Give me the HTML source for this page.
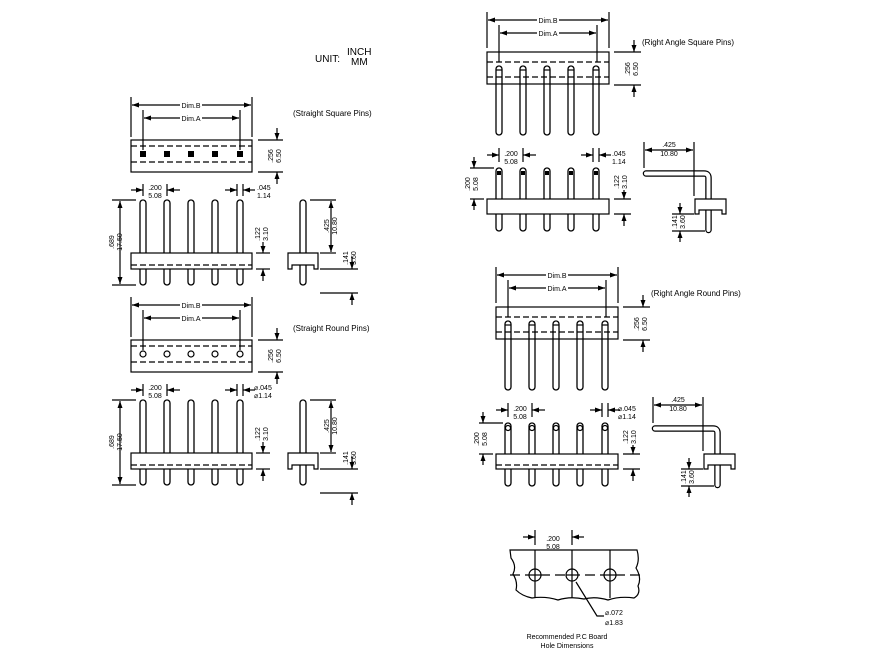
<!DOCTYPE html>
<html><head><meta charset="utf-8"><style>
html,body{margin:0;padding:0;background:#fff}
svg{display:block}
text{font-family:"Liberation Sans",sans-serif;fill:#000}
.d{font-size:7px}
.l{font-size:8px}
</style></head><body>
<svg width="872" height="658" viewBox="0 0 872 658" xmlns="http://www.w3.org/2000/svg">
<defs>
<marker id="a" viewBox="0 0 7 5" refX="7" refY="2.5" markerWidth="7" markerHeight="5" markerUnits="userSpaceOnUse" orient="auto-start-reverse"><path d="M0,0L7,2.5L0,5z" fill="#000"/></marker>
<g id="pin"><rect x="-3" y="0" width="6" height="85" rx="3" fill="#fff" stroke="#000" stroke-width="1.3"/></g>
<g id="rpin"><rect x="-3" y="0" width="6" height="69" rx="3" fill="#fff" stroke="#000" stroke-width="1.3"/><line x1="-3" y1="4" x2="3" y2="4" stroke="#000"/></g>
<g id="fpin"><rect x="-3" y="0" width="6" height="63" rx="3" fill="#fff" stroke="#000" stroke-width="1.3"/></g>
</defs>
<g stroke="#000" fill="none" stroke-width="1.2">

<g id="ss">
<line x1="131" y1="97" x2="131" y2="137"/><line x1="252" y1="97" x2="252" y2="137"/>
<line x1="143" y1="110" x2="143" y2="150"/><line x1="240" y1="110" x2="240" y2="150"/>
<line x1="132" y1="105" x2="251" y2="105" marker-start="url(#a)" marker-end="url(#a)"/>
<line x1="144" y1="118" x2="239" y2="118" marker-start="url(#a)" marker-end="url(#a)"/>
<rect x="131" y="140" width="121" height="32"/>
<line x1="131" y1="146" x2="252" y2="146" stroke-dasharray="6,3"/>
<line x1="131" y1="162" x2="252" y2="162" stroke-dasharray="6,3"/>
<line x1="258" y1="140" x2="283" y2="140"/><line x1="258" y1="172" x2="283" y2="172"/>
<line x1="277" y1="128" x2="277" y2="140" marker-end="url(#a)"/><line x1="277" y1="184" x2="277" y2="172" marker-end="url(#a)"/>
<use href="#pin" x="143" y="200"/><use href="#pin" x="167" y="200"/><use href="#pin" x="191" y="200"/><use href="#pin" x="215" y="200"/><use href="#pin" x="240" y="200"/>
<rect x="131" y="253" width="121" height="16" fill="#fff"/>
<line x1="131" y1="265" x2="252" y2="265" stroke-dasharray="6,3"/>
<line x1="143" y1="184" x2="143" y2="196"/><line x1="167" y1="184" x2="167" y2="196"/>
<line x1="131" y1="190" x2="143" y2="190" marker-end="url(#a)"/><line x1="180" y1="190" x2="167" y2="190" marker-end="url(#a)"/>
<line x1="237" y1="184" x2="237" y2="196"/><line x1="243" y1="184" x2="243" y2="196"/>
<line x1="225" y1="190" x2="237" y2="190" marker-end="url(#a)"/><line x1="255" y1="190" x2="243" y2="190" marker-end="url(#a)"/>
<line x1="112" y1="200" x2="136" y2="200"/><line x1="112" y1="285" x2="136" y2="285"/>
<line x1="120" y1="201" x2="120" y2="284" marker-start="url(#a)" marker-end="url(#a)"/>
<line x1="256" y1="253" x2="270" y2="253"/><line x1="256" y1="269" x2="270" y2="269"/>
<line x1="263" y1="242" x2="263" y2="253" marker-end="url(#a)"/><line x1="263" y1="281" x2="263" y2="269" marker-end="url(#a)"/>
<use href="#pin" x="303" y="200"/>
<path d="M288,253H318V269H314V265H292V269H288Z" fill="#fff"/>
<line x1="310" y1="200" x2="336" y2="200"/><line x1="320" y1="253" x2="336" y2="253"/>
<line x1="331" y1="201" x2="331" y2="252" marker-start="url(#a)" marker-end="url(#a)"/>
<line x1="320" y1="269" x2="358" y2="269"/><line x1="320" y1="293" x2="358" y2="293"/>
<line x1="352" y1="257" x2="352" y2="269" marker-end="url(#a)"/><line x1="352" y1="305" x2="352" y2="293" marker-end="url(#a)"/>
</g>
<g fill="#000" stroke="none">
<rect x="140" y="151" width="6" height="6"/><rect x="164" y="151" width="6" height="6"/><rect x="188" y="151" width="6" height="6"/><rect x="212" y="151" width="6" height="6"/><rect x="237" y="151" width="6" height="6"/>
</g>

<g transform="translate(0,200)">
<line x1="131" y1="97" x2="131" y2="137"/><line x1="252" y1="97" x2="252" y2="137"/>
<line x1="143" y1="110" x2="143" y2="150"/><line x1="240" y1="110" x2="240" y2="150"/>
<line x1="132" y1="105" x2="251" y2="105" marker-start="url(#a)" marker-end="url(#a)"/>
<line x1="144" y1="118" x2="239" y2="118" marker-start="url(#a)" marker-end="url(#a)"/>
<rect x="131" y="140" width="121" height="32"/>
<line x1="131" y1="146" x2="252" y2="146" stroke-dasharray="6,3"/>
<line x1="131" y1="162" x2="252" y2="162" stroke-dasharray="6,3"/>
<circle cx="143" cy="154" r="3"/><circle cx="167" cy="154" r="3"/><circle cx="191" cy="154" r="3"/><circle cx="215" cy="154" r="3"/><circle cx="240" cy="154" r="3"/>
<line x1="258" y1="140" x2="283" y2="140"/><line x1="258" y1="172" x2="283" y2="172"/>
<line x1="277" y1="128" x2="277" y2="140" marker-end="url(#a)"/><line x1="277" y1="184" x2="277" y2="172" marker-end="url(#a)"/>
<use href="#pin" x="143" y="200"/><use href="#pin" x="167" y="200"/><use href="#pin" x="191" y="200"/><use href="#pin" x="215" y="200"/><use href="#pin" x="240" y="200"/>
<rect x="131" y="253" width="121" height="16" fill="#fff"/>
<line x1="131" y1="265" x2="252" y2="265" stroke-dasharray="6,3"/>
<line x1="143" y1="184" x2="143" y2="196"/><line x1="167" y1="184" x2="167" y2="196"/>
<line x1="131" y1="190" x2="143" y2="190" marker-end="url(#a)"/><line x1="180" y1="190" x2="167" y2="190" marker-end="url(#a)"/>
<line x1="237" y1="184" x2="237" y2="196"/><line x1="243" y1="184" x2="243" y2="196"/>
<line x1="225" y1="190" x2="237" y2="190" marker-end="url(#a)"/><line x1="255" y1="190" x2="243" y2="190" marker-end="url(#a)"/>
<line x1="112" y1="200" x2="136" y2="200"/><line x1="112" y1="285" x2="136" y2="285"/>
<line x1="120" y1="201" x2="120" y2="284" marker-start="url(#a)" marker-end="url(#a)"/>
<line x1="256" y1="253" x2="270" y2="253"/><line x1="256" y1="269" x2="270" y2="269"/>
<line x1="263" y1="242" x2="263" y2="253" marker-end="url(#a)"/><line x1="263" y1="281" x2="263" y2="269" marker-end="url(#a)"/>
<use href="#pin" x="303" y="200"/>
<path d="M288,253H318V269H314V265H292V269H288Z" fill="#fff"/>
<line x1="310" y1="200" x2="336" y2="200"/><line x1="320" y1="253" x2="336" y2="253"/>
<line x1="331" y1="201" x2="331" y2="252" marker-start="url(#a)" marker-end="url(#a)"/>
<line x1="320" y1="269" x2="358" y2="269"/><line x1="320" y1="293" x2="358" y2="293"/>
<line x1="352" y1="257" x2="352" y2="269" marker-end="url(#a)"/><line x1="352" y1="305" x2="352" y2="293" marker-end="url(#a)"/>
</g>

<g id="ra">
<line x1="487" y1="12" x2="487" y2="48"/><line x1="609" y1="12" x2="609" y2="48"/>
<line x1="499" y1="25" x2="499" y2="62"/><line x1="597" y1="25" x2="597" y2="62"/>
<line x1="488" y1="20" x2="608" y2="20" marker-start="url(#a)" marker-end="url(#a)"/>
<line x1="500" y1="33" x2="596" y2="33" marker-start="url(#a)" marker-end="url(#a)"/>
<use href="#rpin" x="499" y="66"/><use href="#rpin" x="523" y="66"/><use href="#rpin" x="547" y="66"/><use href="#rpin" x="571" y="66"/><use href="#rpin" x="596" y="66"/>
<rect x="487" y="52" width="122" height="32"/>
<line x1="487" y1="62" x2="609" y2="62" stroke-dasharray="6,3"/>
<line x1="487" y1="77" x2="609" y2="77" stroke-dasharray="6,3"/>
<line x1="614" y1="52" x2="641" y2="52"/><line x1="614" y1="85" x2="641" y2="85"/>
<line x1="634" y1="40" x2="634" y2="52" marker-end="url(#a)"/><line x1="634" y1="97" x2="634" y2="85" marker-end="url(#a)"/>
<use href="#fpin" x="499" y="168"/><use href="#fpin" x="523" y="168"/><use href="#fpin" x="547" y="168"/><use href="#fpin" x="571" y="168"/><use href="#fpin" x="596" y="168"/>
<rect x="487" y="199" width="122" height="15" fill="#fff"/>
<line x1="499" y1="148" x2="499" y2="162"/><line x1="523" y1="148" x2="523" y2="162"/>
<line x1="487" y1="155" x2="499" y2="155" marker-end="url(#a)"/><line x1="536" y1="155" x2="523" y2="155" marker-end="url(#a)"/>
<line x1="593" y1="148" x2="593" y2="162"/><line x1="599" y1="148" x2="599" y2="162"/>
<line x1="581" y1="155" x2="593" y2="155" marker-end="url(#a)"/><line x1="611" y1="155" x2="599" y2="155" marker-end="url(#a)"/>
<line x1="470" y1="168" x2="494" y2="168"/><line x1="470" y1="199" x2="484" y2="199"/>
<line x1="474" y1="157" x2="474" y2="168" marker-end="url(#a)"/><line x1="474" y1="210" x2="474" y2="199" marker-end="url(#a)"/>
<line x1="614" y1="199" x2="631" y2="199"/><line x1="614" y1="214" x2="631" y2="214"/>
<line x1="624" y1="190" x2="624" y2="199" marker-end="url(#a)"/><line x1="624" y1="226" x2="624" y2="214" marker-end="url(#a)"/>
<path d="M646,173.5H704Q708.5,173.5 708.5,178V230" stroke-width="6.5" stroke-linecap="round"/>
<path d="M646,173.5H704Q708.5,173.5 708.5,178V230" stroke="#fff" stroke-width="4" stroke-linecap="round"/>
<path d="M695,199H726V214H722V210H699V214H695Z" fill="#fff"/>
<line x1="644" y1="142" x2="644" y2="168"/><line x1="694" y1="142" x2="694" y2="196"/>
<line x1="645" y1="150" x2="693" y2="150" marker-start="url(#a)" marker-end="url(#a)"/>
<line x1="672" y1="214" x2="694" y2="214"/><line x1="672" y1="231" x2="705" y2="231"/>
<line x1="680" y1="203" x2="680" y2="214" marker-end="url(#a)"/><line x1="680" y1="242" x2="680" y2="231" marker-end="url(#a)"/>
</g>
<g fill="#000" stroke="none">
<rect x="497" y="171" width="4" height="4"/><rect x="521" y="171" width="4" height="4"/><rect x="545" y="171" width="4" height="4"/><rect x="569" y="171" width="4" height="4"/><rect x="594" y="171" width="4" height="4"/>
</g>

<g transform="translate(9,255)">
<line x1="487" y1="12" x2="487" y2="48"/><line x1="609" y1="12" x2="609" y2="48"/>
<line x1="499" y1="25" x2="499" y2="62"/><line x1="597" y1="25" x2="597" y2="62"/>
<line x1="488" y1="20" x2="608" y2="20" marker-start="url(#a)" marker-end="url(#a)"/>
<line x1="500" y1="33" x2="596" y2="33" marker-start="url(#a)" marker-end="url(#a)"/>
<use href="#rpin" x="499" y="66"/><use href="#rpin" x="523" y="66"/><use href="#rpin" x="547" y="66"/><use href="#rpin" x="571" y="66"/><use href="#rpin" x="596" y="66"/>
<rect x="487" y="52" width="122" height="32"/>
<line x1="487" y1="62" x2="609" y2="62" stroke-dasharray="6,3"/>
<line x1="487" y1="77" x2="609" y2="77" stroke-dasharray="6,3"/>
<line x1="614" y1="52" x2="641" y2="52"/><line x1="614" y1="85" x2="641" y2="85"/>
<line x1="634" y1="40" x2="634" y2="52" marker-end="url(#a)"/><line x1="634" y1="97" x2="634" y2="85" marker-end="url(#a)"/>
<use href="#fpin" x="499" y="168"/><use href="#fpin" x="523" y="168"/><use href="#fpin" x="547" y="168"/><use href="#fpin" x="571" y="168"/><use href="#fpin" x="596" y="168"/>
<circle cx="499" cy="173" r="2.5"/><circle cx="523" cy="173" r="2.5"/><circle cx="547" cy="173" r="2.5"/><circle cx="571" cy="173" r="2.5"/><circle cx="596" cy="173" r="2.5"/>
<rect x="487" y="199" width="122" height="15" fill="#fff"/>
<line x1="487" y1="210" x2="609" y2="210" stroke-dasharray="6,3"/>
<line x1="499" y1="148" x2="499" y2="162"/><line x1="523" y1="148" x2="523" y2="162"/>
<line x1="487" y1="155" x2="499" y2="155" marker-end="url(#a)"/><line x1="536" y1="155" x2="523" y2="155" marker-end="url(#a)"/>
<line x1="593" y1="148" x2="593" y2="162"/><line x1="599" y1="148" x2="599" y2="162"/>
<line x1="581" y1="155" x2="593" y2="155" marker-end="url(#a)"/><line x1="611" y1="155" x2="599" y2="155" marker-end="url(#a)"/>
<line x1="470" y1="168" x2="494" y2="168"/><line x1="470" y1="199" x2="484" y2="199"/>
<line x1="474" y1="157" x2="474" y2="168" marker-end="url(#a)"/><line x1="474" y1="210" x2="474" y2="199" marker-end="url(#a)"/>
<line x1="614" y1="199" x2="631" y2="199"/><line x1="614" y1="214" x2="631" y2="214"/>
<line x1="624" y1="190" x2="624" y2="199" marker-end="url(#a)"/><line x1="624" y1="226" x2="624" y2="214" marker-end="url(#a)"/>
<path d="M646,173.5H704Q708.5,173.5 708.5,178V230" stroke-width="6.5" stroke-linecap="round"/>
<path d="M646,173.5H704Q708.5,173.5 708.5,178V230" stroke="#fff" stroke-width="4" stroke-linecap="round"/>
<path d="M695,199H726V214H722V210H699V214H695Z" fill="#fff"/>
<line x1="644" y1="142" x2="644" y2="168"/><line x1="694" y1="142" x2="694" y2="196"/>
<line x1="645" y1="150" x2="693" y2="150" marker-start="url(#a)" marker-end="url(#a)"/>
<line x1="672" y1="214" x2="694" y2="214"/><line x1="672" y1="231" x2="705" y2="231"/>
<line x1="680" y1="203" x2="680" y2="214" marker-end="url(#a)"/><line x1="680" y1="242" x2="680" y2="231" marker-end="url(#a)"/>
</g>

<line x1="535" y1="530" x2="535" y2="545"/><line x1="572" y1="530" x2="572" y2="545"/>
<line x1="523" y1="537" x2="535" y2="537" marker-end="url(#a)"/><line x1="584" y1="537" x2="572" y2="537" marker-end="url(#a)"/>
<path d="M510,550H637Q640,560 636,568Q642,578 638,586Q641,594 634,598Q620,596 608,600Q595,596 584,599Q570,596 558,600Q545,596 532,598Q522,596 516,590Q518,582 513,574Q517,566 511,558Z"/>
<line x1="510" y1="575" x2="640" y2="575" stroke-dasharray="10,5"/>
<line x1="535" y1="550" x2="535" y2="598"/><line x1="572" y1="550" x2="572" y2="598"/><line x1="610" y1="550" x2="610" y2="598"/>
<circle cx="535" cy="575" r="6" fill="#fff"/><circle cx="572" cy="575" r="6" fill="#fff"/><circle cx="610" cy="575" r="6" fill="#fff"/>
<line x1="535" y1="569" x2="535" y2="581"/><line x1="572" y1="569" x2="572" y2="581"/><line x1="610" y1="569" x2="610" y2="581"/>
<line x1="529" y1="575" x2="541" y2="575"/><line x1="566" y1="575" x2="578" y2="575"/><line x1="604" y1="575" x2="616" y2="575"/>
<polyline points="576,582 597,616 604,616"/>
</g>

<text x="315" y="62" style="font-size:10px">UNIT:</text>
<text x="347" y="55" style="font-size:10px">INCH</text>
<text x="351" y="65" style="font-size:10px">MM</text>

<text class="l" x="293" y="116">(Straight Square Pins)</text>
<text class="l" x="293" y="331">(Straight Round Pins)</text>
<text class="l" x="642" y="45">(Right Angle Square Pins)</text>
<text class="l" x="651" y="296">(Right Angle Round Pins)</text>

<g class="d" text-anchor="middle">
<rect x="180" y="101" width="22" height="8" fill="#fff"/><text x="191" y="108">Dim.B</text>
<rect x="180" y="114" width="22" height="8" fill="#fff"/><text x="191" y="121">Dim.A</text>
<rect x="180" y="301" width="22" height="8" fill="#fff"/><text x="191" y="308">Dim.B</text>
<rect x="180" y="314" width="22" height="8" fill="#fff"/><text x="191" y="321">Dim.A</text>
<rect x="537" y="16" width="22" height="8" fill="#fff"/><text x="548" y="23">Dim.B</text>
<rect x="537" y="29" width="22" height="8" fill="#fff"/><text x="548" y="36">Dim.A</text>
<rect x="546" y="271" width="22" height="8" fill="#fff"/><text x="557" y="278">Dim.B</text>
<rect x="546" y="284" width="22" height="8" fill="#fff"/><text x="557" y="291">Dim.A</text>

<text x="155" y="190">.200</text><text x="155" y="198">5.08</text>
<text x="155" y="390">.200</text><text x="155" y="398">5.08</text>
<text x="511" y="156">.200</text><text x="511" y="164">5.08</text>
<text x="520" y="411">.200</text><text x="520" y="419">5.08</text>
<text x="669" y="147">.425</text><text x="669" y="156">10.80</text>
<text x="678" y="402">.425</text><text x="678" y="411">10.80</text>
<text x="553" y="541">.200</text><text x="553" y="549">5.08</text>
</g>
<g class="d">
<text x="257" y="190">.045</text><text x="257" y="198">1.14</text>
<text x="254" y="390">⌀.045</text><text x="254" y="398">⌀1.14</text>
<text x="612" y="156">.045</text><text x="612" y="164">1.14</text>
<text x="618" y="411">⌀.045</text><text x="618" y="419">⌀1.14</text>
<text x="605" y="615">⌀.072</text><text x="605" y="625">⌀1.83</text>
</g>
<g class="d" text-anchor="middle">
<text transform="translate(273,156) rotate(-90)">.256</text><text transform="translate(281,156) rotate(-90)">6.50</text>
<text transform="translate(273,356) rotate(-90)">.256</text><text transform="translate(281,356) rotate(-90)">6.50</text>
<text transform="translate(630,69) rotate(-90)">.256</text><text transform="translate(638,69) rotate(-90)">6.50</text>
<text transform="translate(639,324) rotate(-90)">.256</text><text transform="translate(647,324) rotate(-90)">6.50</text>
<text transform="translate(114,242) rotate(-90)">.689</text><text transform="translate(122,242) rotate(-90)">17.50</text>
<text transform="translate(114,442) rotate(-90)">.689</text><text transform="translate(122,442) rotate(-90)">17.50</text>
<text transform="translate(260,234) rotate(-90)">.122</text><text transform="translate(268,234) rotate(-90)">3.10</text>
<text transform="translate(260,434) rotate(-90)">.122</text><text transform="translate(268,434) rotate(-90)">3.10</text>
<text transform="translate(329,226) rotate(-90)">.425</text><text transform="translate(337,226) rotate(-90)">10.80</text>
<text transform="translate(329,426) rotate(-90)">.425</text><text transform="translate(337,426) rotate(-90)">10.80</text>
<text transform="translate(348,258) rotate(-90)">.141</text><text transform="translate(356,258) rotate(-90)">3.60</text>
<text transform="translate(348,458) rotate(-90)">.141</text><text transform="translate(356,458) rotate(-90)">3.60</text>
<text transform="translate(470,184) rotate(-90)">.200</text><text transform="translate(478,184) rotate(-90)">5.08</text>
<text transform="translate(479,439) rotate(-90)">.200</text><text transform="translate(487,439) rotate(-90)">5.08</text>
<text transform="translate(619,182) rotate(-90)">.122</text><text transform="translate(627,182) rotate(-90)">3.10</text>
<text transform="translate(628,437) rotate(-90)">.122</text><text transform="translate(636,437) rotate(-90)">3.10</text>
<text transform="translate(677,222) rotate(-90)">.141</text><text transform="translate(685,222) rotate(-90)">3.60</text>
<text transform="translate(686,477) rotate(-90)">.141</text><text transform="translate(694,477) rotate(-90)">3.60</text>
<text x="567" y="639">Recommended P.C Board</text>
<text x="567" y="648">Hole Dimensions</text>
</g>
</svg>
</body></html>
